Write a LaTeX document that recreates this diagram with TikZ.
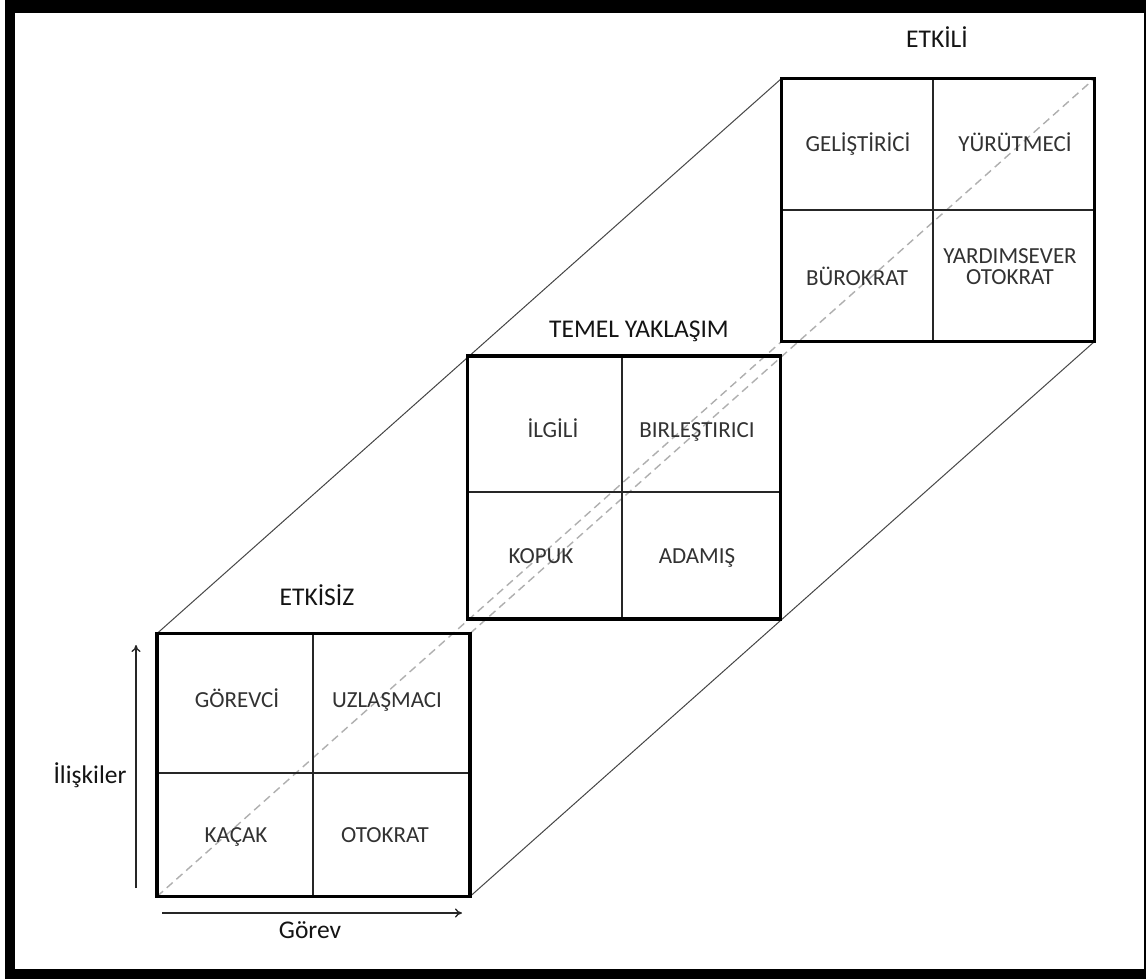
\documentclass[tikz,border=0pt]{standalone}
\usepackage{fontspec}
\setmainfont{Carlito}
\usetikzlibrary{arrows.meta}
\definecolor{celltext}{RGB}{50,50,50}
\definecolor{titletext}{RGB}{20,20,20}
\definecolor{hiddencol}{RGB}{175,175,175}
\definecolor{edgecol}{RGB}{70,70,70}
\begin{document}
\begin{tikzpicture}[x=1pt,y=-1pt,
  grid/.style={draw=black,line width=3.6pt,minimum width=313pt,minimum height=263pt,inner sep=0pt,outer sep=0pt},
  divider/.style={draw=black!85,line width=1.6pt},
  prismedge/.style={draw=edgecol,line width=1pt},
  hidden/.style={draw=hiddencol,line width=1.4pt,dash pattern=on 8pt off 5pt},
  cell/.style={font=\fontsize{23}{21.5}\selectfont,text=celltext,align=center,inner sep=0pt,anchor=base},
  title/.style={font=\fontsize{25.5}{28}\selectfont,text=titletext,inner sep=0pt,anchor=base},
  axislabel/.style={font=\fontsize{25.5}{28}\selectfont,text=titletext,inner sep=0pt,anchor=base},
  axisarrow/.style={draw=black!85,line width=1.3pt,-{To[length=7pt,width=9pt]}}]

\useasboundingbox (0,0) rectangle (1146,979);
\fill[black] (5,0) rectangle (1146,979);
\fill[white] (15,13) rectangle (1144,969);

% boxes
\node[grid] (A) at (313.5,765) {};
\node[grid] (B) at (624,487.5) {};
\node[grid] (C) at (938,210) {};

% prism edges
\draw[prismedge] (A.north west) -- (C.north west);
\draw[prismedge] (A.south east) -- (C.south east);
\draw[hidden] (A.south west) -- (C.south west);
\draw[hidden] (A.north east) -- (C.north east);

% dividers
\draw[divider] (313,633.5) -- (313,896.5);
\draw[divider] (157,773) -- (470,773);
\draw[divider] (622,356) -- (622,619);
\draw[divider] (467.5,492) -- (780.5,492);
\draw[divider] (933,78.5) -- (933,341.5);
\draw[divider] (781.5,210) -- (1094.5,210);

% redraw box outlines on top
\node[grid] at (313.5,765) {};
\node[grid] at (624,487.5) {};
\node[grid] at (938,210) {};

% titles
\node[title] (tA) at (317,605) {ETKİSİZ};
\node[title] (tB) at (639,337) {TEMEL YAKLAŞIM};
\node[title] (tC) at (937,48) {ETKİLİ};

% cells bottom box
\node[cell] (a1) at (237,707) {GÖREVCİ};
\node[cell] (a2) at (387,707) {UZLAŞMACI};
\node[cell] (a3) at (236,842) {KAÇAK};
\node[cell] (a4) at (385,842) {OTOKRAT};

% cells middle box
\node[cell] (b1) at (553,437) {İLGİLİ};
\node[cell] (b2) at (697,437) {BIRLEŞTIRICI};
\node[cell] (b3) at (541,563) {KOPUK};
\node[cell] (b4) at (697,563) {ADAMIŞ};

% cells top box
\node[cell] (c1) at (858,152) {GELİŞTİRİCİ};
\node[cell] (c2) at (1015,152) {YÜRÜTMECİ};
\node[cell] (c3) at (857,285) {BÜROKRAT};
\node[cell,anchor=south] (c4) at (1010,285) {YARDIMSEVER\\OTOKRAT};

% axes
\coordinate (vy0) at (136,888);
\coordinate (vy1) at (136,645);
\coordinate (hx0) at (162,913);
\coordinate (hx1) at (462,913);
\draw[axisarrow] (vy0) -- (vy1);
\draw[axisarrow] (hx0) -- (hx1);
\node[axislabel] (ly) at (90,783) {İlişkiler};
\node[axislabel] (lx) at (310,938) {Görev};
\end{tikzpicture}
\end{document}
